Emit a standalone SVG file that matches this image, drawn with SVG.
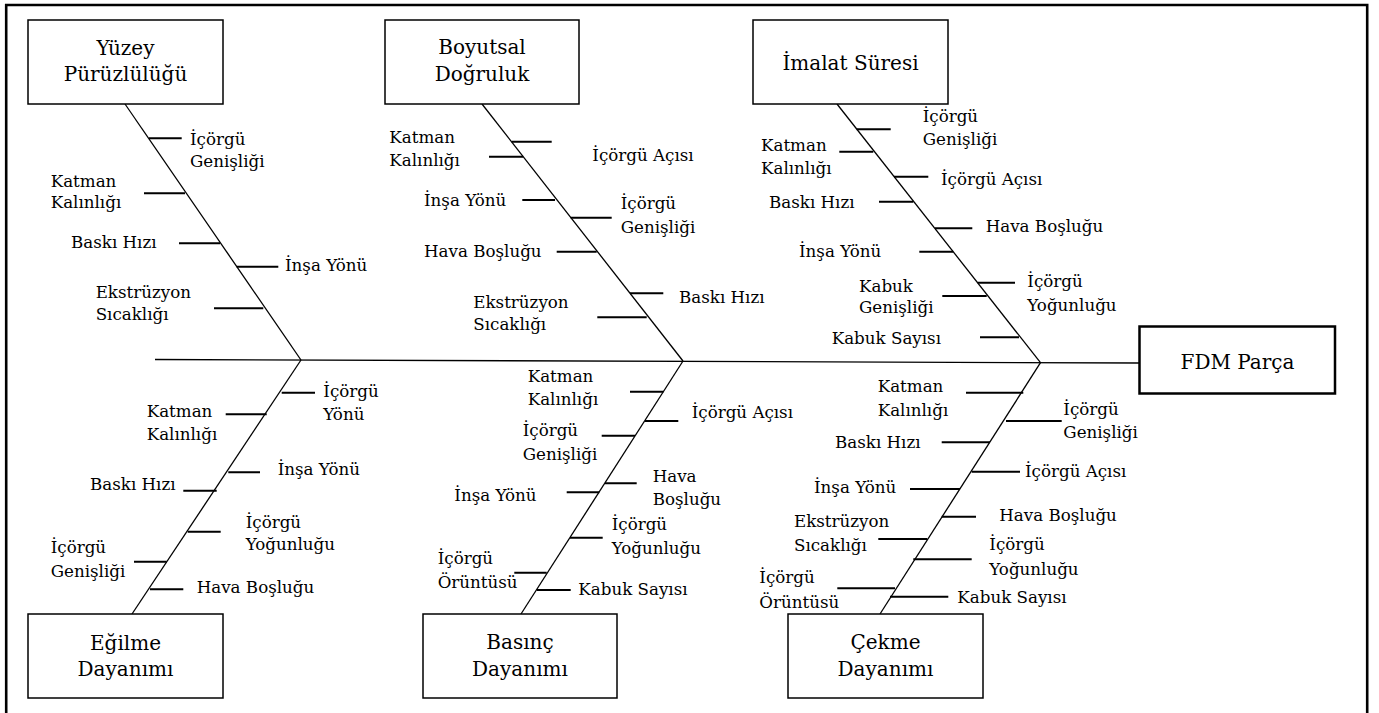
<svg xmlns="http://www.w3.org/2000/svg" width="1379" height="713" viewBox="0 0 1379 713">
<style>
.t{font-family:"DejaVu Serif","Liberation Serif",serif;font-size:16.7px;fill:#000}
.h{font-family:"DejaVu Serif","Liberation Serif",serif;font-size:20px;fill:#000;text-anchor:middle}
.bx{fill:#fff;stroke:#000;stroke-width:1.5}
.bone{stroke:#000;stroke-width:1.3;fill:none}
.rib{stroke:#000;stroke-width:2;fill:none}
</style>
<rect width="1379" height="713" fill="#fff"/>
<path d="M6.2,713 V5 H1367.2 V713" fill="none" stroke="#000" stroke-width="2.6"/>
<g id="connectors">
<line class="bone" x1="155" y1="359.5" x2="1139.5" y2="363"/>
<line class="bone" x1="125" y1="104" x2="301" y2="360"/>
<line class="bone" x1="482" y1="104" x2="683" y2="361"/>
<line class="bone" x1="837" y1="104" x2="1040.5" y2="362.7"/>
<line class="bone" x1="301" y1="360" x2="132" y2="614"/>
<line class="bone" x1="683" y1="361" x2="521" y2="614"/>
<line class="bone" x1="1040.5" y1="362.7" x2="880" y2="614"/>
<path class="rib" d="M149,138.3H181.7M144,193.3H185M179,243.3H220M236.7,266.7H278.3M214,308.3H263.3"/>
<path class="rib" d="M511.7,141.7H551.7M489,156.7H523.3M522.3,200H555M570.7,217.7H611.7M556.7,251.7H596.7M630,293.3H663.3M597.3,317.3H646.7"/>
<path class="rib" d="M856.7,129.3H890.7M839.3,151.7H873.3M894,176.7H928.3M879,201.7H913.3M935,228.3H972.3M919.3,251.7H953.3M977.7,282.7H1015M942.3,296H986.7M980,337.3H1019"/>
<path class="rib" d="M281.7,392.7H315M225.7,414.3H266.7M228.3,472.3H260M183.3,490.7H216.7M187.7,531.7H220.7M134,561.7H166.7M150,589.3H183.3"/>
<path class="rib" d="M630,391.7H663.3M645,421H678.3M601.7,435.7H635M605,483.3H636.7M566.7,492.3H599.3M570,537.7H602.7M514.3,572.7H546.7M536.7,590H570.7"/>
<path class="rib" d="M966,392.7H1023.3M1006,421H1061.7M941.7,442.3H990M971.7,471.7H1020M910,489H960M941.7,516.7H976M878.3,539H927.3M913.3,559.3H971.7M837.3,588.3H895M890,596.7H948.3"/>
</g>
<g id="node-yuzey"><rect class="bx" x="28" y="20" width="195" height="84"/><text class="h" x="125.5" y="55">Yüzey</text><text class="h" x="125.5" y="81">Pürüzlülüğü</text></g>
<g id="node-boyutsal"><rect class="bx" x="385" y="20" width="194" height="84"/><text class="h" x="482" y="54">Boyutsal</text><text class="h" x="482" y="81">Doğruluk</text></g>
<g id="node-imalat"><rect class="bx" x="753" y="20" width="195" height="84"/><text class="h" x="850.5" y="70">İmalat Süresi</text></g>
<g id="node-egilme"><rect class="bx" x="28" y="614" width="195" height="84"/><text class="h" x="125.5" y="650">Eğilme</text><text class="h" x="125.5" y="676">Dayanımı</text></g>
<g id="node-basinc"><rect class="bx" x="423" y="614" width="194" height="84"/><text class="h" x="520" y="648.5">Basınç</text><text class="h" x="520" y="676">Dayanımı</text></g>
<g id="node-cekme"><rect class="bx" x="788" y="614" width="195" height="84"/><text class="h" x="885.5" y="648.5">Çekme</text><text class="h" x="885.5" y="676">Dayanımı</text></g>
<g id="node-fdm"><rect x="1139.5" y="326.5" width="195.5" height="67" fill="#fff" stroke="#000" stroke-width="2.5"/><text class="h" x="1237.5" y="369">FDM Parça</text></g>
<g id="causes-yuzey" class="t">
<text x="190" y="145">İçörgü</text><text x="190" y="167">Genişliği</text>
<text x="50.7" y="186.7">Katman</text><text x="50.7" y="208.3">Kalınlığı</text>
<text x="71" y="247.7">Baskı Hızı</text>
<text x="285" y="271">İnşa Yönü</text>
<text x="95.7" y="298.3">Ekstrüzyon</text><text x="95.7" y="320">Sıcaklığı</text>
</g>
<g id="causes-boyutsal" class="t">
<text x="592.3" y="160.5">İçörgü Açısı</text>
<text x="389.3" y="143.3">Katman</text><text x="389.3" y="165.7">Kalınlığı</text>
<text x="424" y="206">İnşa Yönü</text>
<text x="620.7" y="209.3">İçörgü</text><text x="620.7" y="233.3">Genişliği</text>
<text x="424" y="256.7">Hava Boşluğu</text>
<text x="679" y="303">Baskı Hızı</text>
<text x="473.3" y="308.3">Ekstrüzyon</text><text x="473.3" y="330">Sıcaklığı</text>
</g>
<g id="causes-imalat" class="t">
<text x="922.7" y="121.7">İçörgü</text><text x="922.7" y="145">Genişliği</text>
<text x="761" y="151">Katman</text><text x="761" y="174">Kalınlığı</text>
<text x="941" y="185">İçörgü Açısı</text>
<text x="769" y="208.3">Baskı Hızı</text>
<text x="985.7" y="232.3">Hava Boşluğu</text>
<text x="799" y="257.3">İnşa Yönü</text>
<text x="1027.3" y="287.3">İçörgü</text><text x="1027.3" y="310.7">Yoğunluğu</text>
<text x="859" y="291.7">Kabuk</text><text x="859" y="313.3">Genişliği</text>
<text x="831.7" y="344.3">Kabuk Sayısı</text>
</g>
<g id="causes-egilme" class="t">
<text x="323.3" y="396.7">İçörgü</text><text x="323.3" y="420">Yönü</text>
<text x="146.7" y="417">Katman</text><text x="146.7" y="440">Kalınlığı</text>
<text x="277.7" y="475">İnşa Yönü</text>
<text x="90" y="490">Baskı Hızı</text>
<text x="245.7" y="528.3">İçörgü</text><text x="245.7" y="550">Yoğunluğu</text>
<text x="50.7" y="553.3">İçörgü</text><text x="50.7" y="576.7">Genişliği</text>
<text x="196.7" y="593.3">Hava Boşluğu</text>
</g>
<g id="causes-basinc" class="t">
<text x="527.7" y="381.7">Katman</text><text x="527.7" y="405">Kalınlığı</text>
<text x="691.7" y="418.3">İçörgü Açısı</text>
<text x="522.7" y="435.7">İçörgü</text><text x="522.7" y="460">Genişliği</text>
<text x="652.7" y="482.3">Hava</text><text x="652.7" y="505">Boşluğu</text>
<text x="454.3" y="500.7">İnşa Yönü</text>
<text x="611.7" y="530">İçörgü</text><text x="611.7" y="554.3">Yoğunluğu</text>
<text x="437.7" y="564.3">İçörgü</text><text x="437.7" y="588.3">Örüntüsü</text>
<text x="578.3" y="595">Kabuk Sayısı</text>
</g>
<g id="causes-cekme" class="t">
<text x="877.7" y="391.7">Katman</text><text x="877.7" y="416">Kalınlığı</text>
<text x="1063.3" y="415">İçörgü</text><text x="1063.3" y="438.3">Genişliği</text>
<text x="835" y="447.7">Baskı Hızı</text>
<text x="1025" y="476.7">İçörgü Açısı</text>
<text x="814" y="492.7">İnşa Yönü</text>
<text x="999.3" y="520.7">Hava Boşluğu</text>
<text x="794" y="526.7">Ekstrüzyon</text><text x="794" y="551">Sıcaklığı</text>
<text x="989.3" y="550">İçörgü</text><text x="989.3" y="575">Yoğunluğu</text>
<text x="759.3" y="583.3">İçörgü</text><text x="759.3" y="607.7">Örüntüsü</text>
<text x="957.3" y="603.3">Kabuk Sayısı</text>
</g>
</svg>
